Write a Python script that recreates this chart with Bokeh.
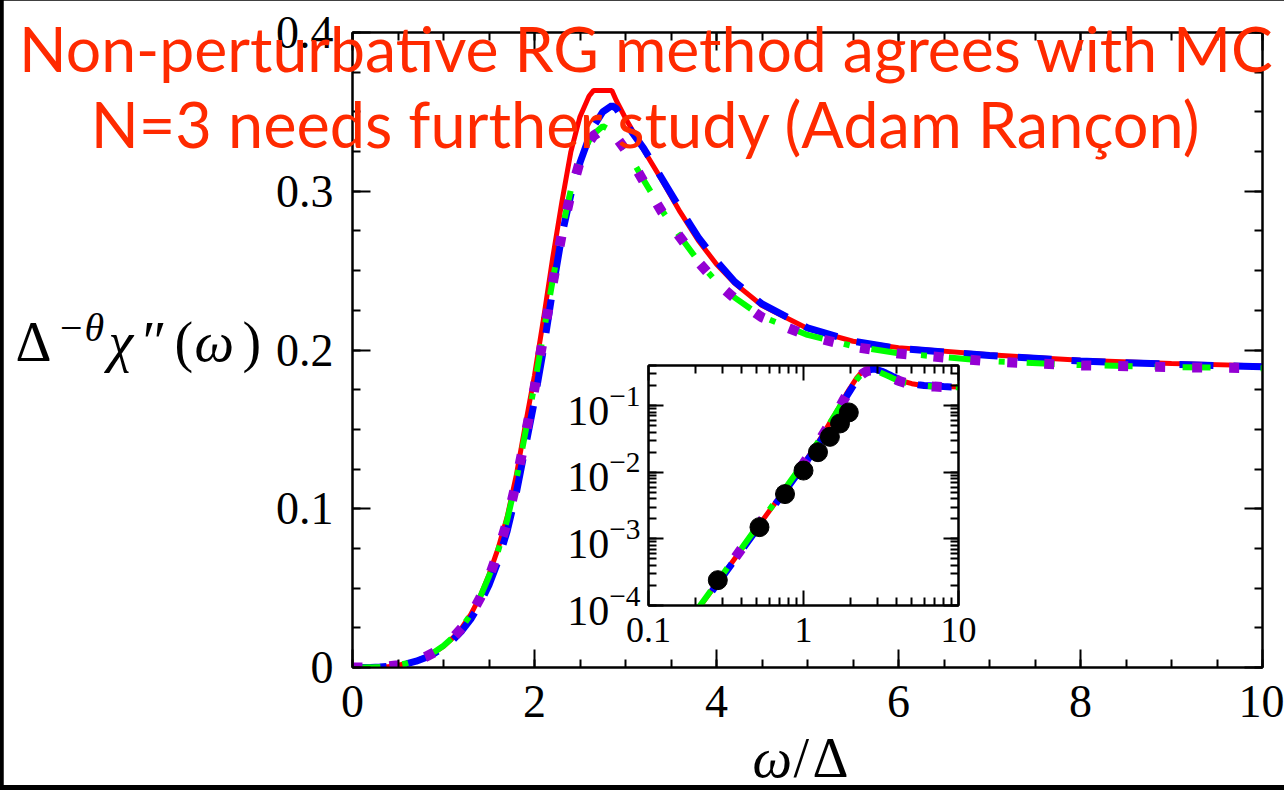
from bokeh.plotting import figure
from bokeh.models import (LinearAxis, LogAxis, SingleIntervalTicker, LogTicker, FixedTicker,
                          CustomJSTickFormatter, Range1d, Div)
from bokeh.core.properties import value
from bokeh.embed import file_html
from bokeh.resources import INLINE

# frequency grid (omega / Delta)
omega = [0.0, 0.1, 0.2, 0.3, 0.4, 0.5, 0.6, 0.7, 0.8, 0.9,
         1.0, 1.1, 1.2, 1.3, 1.4, 1.5, 1.6, 1.7, 1.8, 1.9,
         2.0, 2.1, 2.2, 2.3, 2.4, 2.5, 2.6, 2.65, 2.75, 2.85,
         2.9, 3.0, 3.2, 3.4, 3.6, 3.8, 4.0, 4.2, 4.5, 5.0,
         5.5, 6.0, 7.0, 8.0, 9.0, 10.0]

# scaled spectral function, four approximation schemes
chi_red = [0.0, 8.4e-6, 7.7e-5, 2.8e-4, 7.1e-4, 1.45e-3, 2.6e-3, 4.2e-3, 6.5e-3, 9.5e-3,
           0.0133, 0.0185, 0.0250, 0.0335, 0.0445, 0.0585, 0.0750, 0.0950, 0.121, 0.153,
           0.184, 0.220, 0.258, 0.293, 0.325, 0.347, 0.360, 0.3635, 0.3635, 0.3635,
           0.357, 0.346, 0.326, 0.307, 0.287, 0.269, 0.254, 0.242, 0.228, 0.2135,
           0.2055, 0.2015, 0.1970, 0.1935, 0.1915, 0.1900]

chi_blue = [0.0, 8.0e-6, 7.3e-5, 2.7e-4, 6.8e-4, 1.40e-3, 2.5e-3, 4.0e-3, 6.2e-3, 9.0e-3,
            0.0126, 0.0172, 0.0230, 0.0305, 0.0400, 0.0520, 0.0670, 0.0860, 0.110, 0.139,
            0.168, 0.201, 0.238, 0.272, 0.298, 0.318, 0.334, 0.341, 0.350, 0.354,
            0.352, 0.343, 0.327, 0.308, 0.289, 0.271, 0.256, 0.243, 0.229, 0.2140,
            0.2055, 0.2010, 0.1965, 0.1930, 0.1910, 0.1895]

chi_green = [0.0, 8.6e-6, 7.9e-5, 2.9e-4, 7.3e-4, 1.5e-3, 2.7e-3, 4.4e-3, 6.7e-3, 9.8e-3,
             0.0137, 0.0188, 0.0252, 0.0335, 0.0440, 0.0575, 0.0735, 0.0930, 0.118, 0.148,
             0.178, 0.211, 0.244, 0.275, 0.301, 0.320, 0.332, 0.336, 0.341, 0.338,
             0.335, 0.327, 0.307, 0.288, 0.2715, 0.256, 0.243, 0.233, 0.221, 0.2095,
             0.2025, 0.1980, 0.1930, 0.1905, 0.1893, 0.1885]

chi_violet = [0.0, 8.5e-6, 7.8e-5, 2.85e-4, 7.2e-4, 1.48e-3, 2.65e-3, 4.3e-3, 6.6e-3, 9.6e-3,
              0.0135, 0.0185, 0.0248, 0.0330, 0.0435, 0.0568, 0.0728, 0.0920, 0.117, 0.146,
              0.176, 0.209, 0.242, 0.273, 0.299, 0.319, 0.331, 0.335, 0.339, 0.337,
              0.334, 0.326, 0.306, 0.287, 0.271, 0.2555, 0.2425, 0.2325, 0.2205, 0.2090,
              0.2020, 0.1978, 0.1928, 0.1903, 0.1892, 0.1885]

# Monte Carlo points
mc_omega = [0.28, 0.52, 0.76, 1.00, 1.24, 1.48, 1.72, 1.96]
mc_chi = [2.4e-4, 1.5e-3, 4.7e-3, 0.0106, 0.020, 0.034, 0.054, 0.079]

# inset frequency ticks
inset_x_major = [0.1, 1.0, 10.0]
inset_x_minor = [0.2, 0.3, 0.4, 0.5, 0.6, 0.7, 0.8, 0.9,
                 2.0, 3.0, 4.0, 5.0, 6.0, 7.0, 8.0, 9.0]

title_lines = ["Non-perturbative RG method agrees with MC",
               "N=3 needs further study (Adam Rançon)"]

SERIF = "Liberation Serif"
TITLE_FONT = "Lato"
TITLE_COLOR = "#FF2A00"

styles = [
    dict(color="#FF0000", line_width=5, line_dash="solid"),
    dict(color="#0000FF", line_width=7, line_dash="34 20"),
    dict(color="#00FF00", line_width=6, line_dash="28 22 6 22"),
    dict(color="#9400D3", line_width=10, line_dash="10 27"),
]
series = [chi_red, chi_blue, chi_green, chi_violet]


def style_axis(ax, major_in, minor_in, labels=True, size="46px", standoff=20):
    ax.axis_line_color = "black"
    ax.axis_line_width = 2
    ax.major_tick_line_color = "black"
    ax.major_tick_line_width = 2
    ax.minor_tick_line_color = "black"
    ax.minor_tick_line_width = 2
    ax.major_tick_in = major_in
    ax.major_tick_out = 0
    ax.minor_tick_in = minor_in
    ax.minor_tick_out = 0
    ax.major_label_text_font = SERIF
    if labels:
        ax.major_label_text_color = "black"
        ax.major_label_text_font_size = size
        ax.major_label_standoff = standoff
    else:
        ax.major_label_text_color = None
        ax.major_label_text_font_size = "1px"
        ax.major_label_standoff = 0


# ---------------- black page backdrop ----------------
backdrop = Div(text="", width=1284, height=790, margin=0,
               styles={"position": "absolute", "left": "0px", "top": "0px",
                       "background-color": "black", "z-index": "0"})

# ---------------- main panel ----------------
main = figure(width=1281, height=785, output_backend="svg", toolbar_location=None,
              title=None, x_range=Range1d(0, 10), y_range=Range1d(0, 0.4),
              min_border_left=349, min_border_right=22, min_border_top=32,
              min_border_bottom=118, background_fill_color="white",
              border_fill_color="white", margin=0)
main.grid.visible = False
main.outline_line_color = "black"
main.outline_line_width = 2

xb = main.xaxis[0]
xb.ticker = SingleIntervalTicker(interval=2, num_minor_ticks=4)
style_axis(xb, 18, 8, standoff=18)
yl = main.yaxis[0]
yl.ticker = SingleIntervalTicker(interval=0.1, num_minor_ticks=4)
yl.formatter = CustomJSTickFormatter(code="return Math.abs(tick) < 1e-9 ? '0' : tick.toFixed(1);")
style_axis(yl, 18, 8, standoff=19)

xt = LinearAxis(ticker=SingleIntervalTicker(interval=2, num_minor_ticks=4))
style_axis(xt, 18, 8, labels=False)
main.add_layout(xt, "above")
yr = LinearAxis(ticker=SingleIntervalTicker(interval=0.1, num_minor_ticks=4))
style_axis(yr, 18, 8, labels=False)
main.add_layout(yr, "right")

for ys, st in zip(series, styles):
    main.line(omega, ys, line_color=st["color"], line_width=st["line_width"],
              line_dash=st["line_dash"])

main.styles = {"position": "absolute", "left": "3px", "top": "0px", "z-index": "1"}

# ---------------- inset (log-log) ----------------
inset = figure(width=418, height=310, output_backend="svg", toolbar_location=None,
               title=None, x_axis_type="log", y_axis_type="log",
               x_range=Range1d(0.1, 10), y_range=Range1d(1e-4, 0.4),
               min_border_left=88, min_border_right=20, min_border_top=10,
               min_border_bottom=60, background_fill_color="white",
               border_fill_alpha=0, margin=0)
inset.grid.visible = False
inset.outline_line_color = "black"
inset.outline_line_width = 2

ixb = inset.xaxis[0]
ixb.ticker = FixedTicker(ticks=inset_x_major, minor_ticks=inset_x_minor)
ixb.formatter = CustomJSTickFormatter(code="return tick < 0.5 ? tick.toFixed(1) : tick.toFixed(0);")
style_axis(ixb, 15, 8, size="36px", standoff=12)
iyl = inset.yaxis[0]
iyl.ticker = LogTicker(num_minor_ticks=10)
style_axis(iyl, 15, 8, size="42px", standoff=8)

ixt = LogAxis(ticker=FixedTicker(ticks=inset_x_major, minor_ticks=inset_x_minor))
style_axis(ixt, 15, 8, labels=False)
inset.add_layout(ixt, "above")
iyr = LogAxis(ticker=LogTicker(num_minor_ticks=10))
style_axis(iyr, 15, 8, labels=False)
inset.add_layout(iyr, "right")

for ys, st in zip(series, styles):
    inset.line(omega[1:], ys[1:], line_color=st["color"], line_width=st["line_width"],
               line_dash=st["line_dash"])

inset.scatter(mc_omega, mc_chi, size=19, marker="circle", fill_color="black",
              line_color="black")

inset.styles = {"position": "absolute", "left": "560px", "top": "355px", "z-index": "2"}

# ---------------- text layer (page pixel coordinates, y downward) ----------------
texts = figure(width=1284, height=790, output_backend="svg", toolbar_location=None,
               title=None, x_range=Range1d(0, 1284), y_range=Range1d(790, 0),
               x_axis_type=None, y_axis_type=None,
               min_border_left=0, min_border_right=0, min_border_top=0,
               min_border_bottom=0, background_fill_alpha=0, border_fill_alpha=0,
               margin=0)
texts.grid.visible = False
texts.outline_line_color = None


def put(x, y, txt, size, font=SERIF, style="normal", color="black", align="left"):
    texts.text(x=[x], y=[y], text=[txt], text_font=value(font), text_font_size=size,
               text_font_style=style, text_color=color, text_align=align,
               text_baseline="alphabetic")


put(646, 47, title_lines[0], "62.5px", font=TITLE_FONT, color=TITLE_COLOR, align="center")
put(646, 123, title_lines[1], "63px", font=TITLE_FONT, color=TITLE_COLOR, align="center")

# x-axis title
put(752, 757, "ω", "56px", style="italic")
put(793, 757, "/", "56px")
put(812, 757, "Δ", "56px")

# y-axis title
put(15, 341, "Δ", "56px")
put(57, 327, "−θ", "40px", style="italic")
put(108, 341, "χ", "56px", style="italic")
put(142, 341, "″", "58px")
put(174, 341, "(", "56px")
put(194, 341, "ω", "56px", style="italic")
put(242, 341, ")", "56px")

texts.styles = {"position": "absolute", "left": "0px", "top": "0px", "z-index": "3"}

open("out.html", "w").write(file_html([backdrop, main, inset, texts], INLINE))
